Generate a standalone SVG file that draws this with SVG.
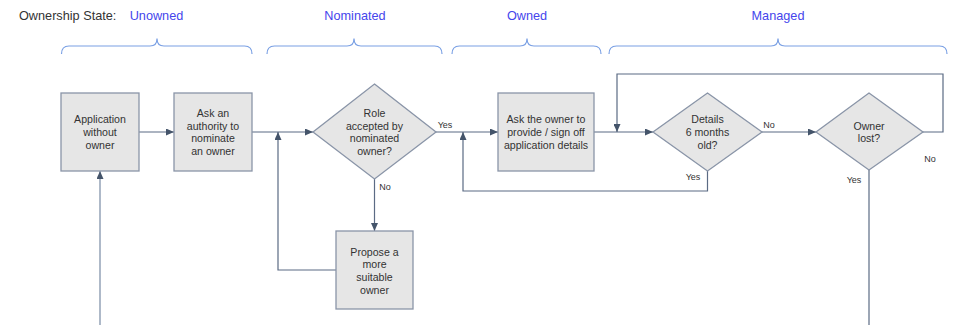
<svg xmlns="http://www.w3.org/2000/svg" width="953" height="325" viewBox="0 0 953 325">
<style>
  .node { fill: #e6e6e6; stroke: #8a95a8; stroke-width: 1.3; }
  .t { font-family: "Liberation Sans", Arial, sans-serif; font-size: 10.6px; fill: #333; text-anchor: middle; }
  .lbl { font-family: "Liberation Sans", Arial, sans-serif; font-size: 9px; fill: #333; text-anchor: middle; }
  .state { font-family: "Liberation Sans", Arial, sans-serif; font-size: 12.7px; fill: #4545ec; text-anchor: middle; }
  .title { font-family: "Liberation Sans", Arial, sans-serif; font-size: 12.7px; fill: #333; }
  .brace { fill: none; stroke: #7aa0e4; stroke-width: 1.2; }
  .edge { fill: none; stroke: #5b6b84; stroke-width: 1.2; }
</style>
<defs>
  <marker id="ah" markerWidth="8" markerHeight="7" refX="8" refY="3.5" orient="auto" markerUnits="userSpaceOnUse">
    <path d="M0,0 L8,3.5 L0,7 z" fill="#44546a"/>
  </marker>
</defs>
<rect width="953" height="325" fill="#fff"/>

<g id="header">
  <text class="title" x="19" y="20">Ownership State:</text>
  <text class="state" x="156.5" y="20">Unowned</text>
  <text class="state" x="355" y="20">Nominated</text>
  <text class="state" x="527" y="20">Owned</text>
  <text class="state" x="778" y="20">Managed</text>
  <path class="brace" d="M61.5,54 Q61.5,46 69,46 L150,46 Q157,46 157,38.5 Q157,46 164,46 L244.5,46 Q252,46 252,54"/>
  <path class="brace" d="M267,54 Q267,46 274.5,46 L347,46 Q354,46 354,38.5 Q354,46 361,46 L434.5,46 Q442,46 442,54"/>
  <path class="brace" d="M452,54 Q452,46 459.5,46 L520,46 Q527,46 527,38.5 Q527,46 534,46 L593.5,46 Q601,46 601,54"/>
  <path class="brace" d="M609,54 Q609,46 616.5,46 L771,46 Q778,46 778,38.5 Q778,46 785,46 L939.5,46 Q947,46 947,54"/>
</g>

<g id="connectors">
  <path class="edge" d="M100,325 V171" style="stroke:#9aa8bb;stroke-width:1.6" marker-end="url(#ah)"/>
  <path class="edge" d="M139,132 H174" marker-end="url(#ah)"/>
  <path class="edge" d="M252,132 H313" marker-end="url(#ah)"/>
  <path class="edge" d="M336,270 H278 V132" marker-end="url(#ah)"/>
  <path class="edge" d="M374.5,179 V231" marker-end="url(#ah)"/>
  <path class="edge" d="M436,132 H498" marker-end="url(#ah)"/>
  <path class="edge" d="M594,132 H653" marker-end="url(#ah)"/>
  <path class="edge" d="M762,132 H816" marker-end="url(#ah)"/>
  <path class="edge" d="M923,132 H943 V74 H617 V132" marker-end="url(#ah)"/>
  <path class="edge" d="M707.5,171 V191 H463 V132" marker-end="url(#ah)"/>
  <path class="edge" d="M869,170 V325"/>
  <text class="lbl" x="445" y="128">Yes</text>
  <text class="lbl" x="385" y="190">No</text>
  <text class="lbl" x="769" y="128">No</text>
  <text class="lbl" x="693" y="180">Yes</text>
  <text class="lbl" x="930" y="162">No</text>
  <text class="lbl" x="854" y="183">Yes</text>
</g>

<g id="n-application">
  <rect class="node" x="61" y="93" width="78" height="78"/>
  <text class="t" x="100" y="123.3">Application</text>
  <text class="t" x="100" y="136">without</text>
  <text class="t" x="100" y="148.7">owner</text>
</g>
<g id="n-ask-authority">
  <rect class="node" x="174" y="93" width="78" height="78"/>
  <text class="t" x="213" y="117">Ask an</text>
  <text class="t" x="213" y="129.7">authority to</text>
  <text class="t" x="213" y="142.4">nominate</text>
  <text class="t" x="213" y="155.1">an owner</text>
</g>
<g id="n-role-accepted">
  <polygon class="node" points="374.5,84 436,132 374.5,179 313,132"/>
  <text class="t" x="374.5" y="117">Role</text>
  <text class="t" x="374.5" y="129.7">accepted by</text>
  <text class="t" x="374.5" y="142.4">nominated</text>
  <text class="t" x="374.5" y="155.1">owner?</text>
</g>
<g id="n-propose">
  <rect class="node" x="336" y="231" width="77" height="78"/>
  <text class="t" x="374.5" y="255.7">Propose a</text>
  <text class="t" x="374.5" y="268.4">more</text>
  <text class="t" x="374.5" y="281.1">suitable</text>
  <text class="t" x="374.5" y="293.8">owner</text>
</g>
<g id="n-ask-owner">
  <rect class="node" x="498" y="93" width="96" height="78"/>
  <text class="t" x="546" y="123.3">Ask the owner to</text>
  <text class="t" x="546" y="136">provide / sign off</text>
  <text class="t" x="546" y="148.7">application details</text>
</g>
<g id="n-details-old">
  <polygon class="node" points="707.5,93 762,132 707.5,171 653,132"/>
  <text class="t" x="707.5" y="123.3">Details</text>
  <text class="t" x="707.5" y="136">6 months</text>
  <text class="t" x="707.5" y="148.7">old?</text>
</g>
<g id="n-owner-lost">
  <polygon class="node" points="869,93 923,132 869,170 816,132"/>
  <text class="t" x="869" y="129.7">Owner</text>
  <text class="t" x="869" y="142.4">lost?</text>
</g>
</svg>
